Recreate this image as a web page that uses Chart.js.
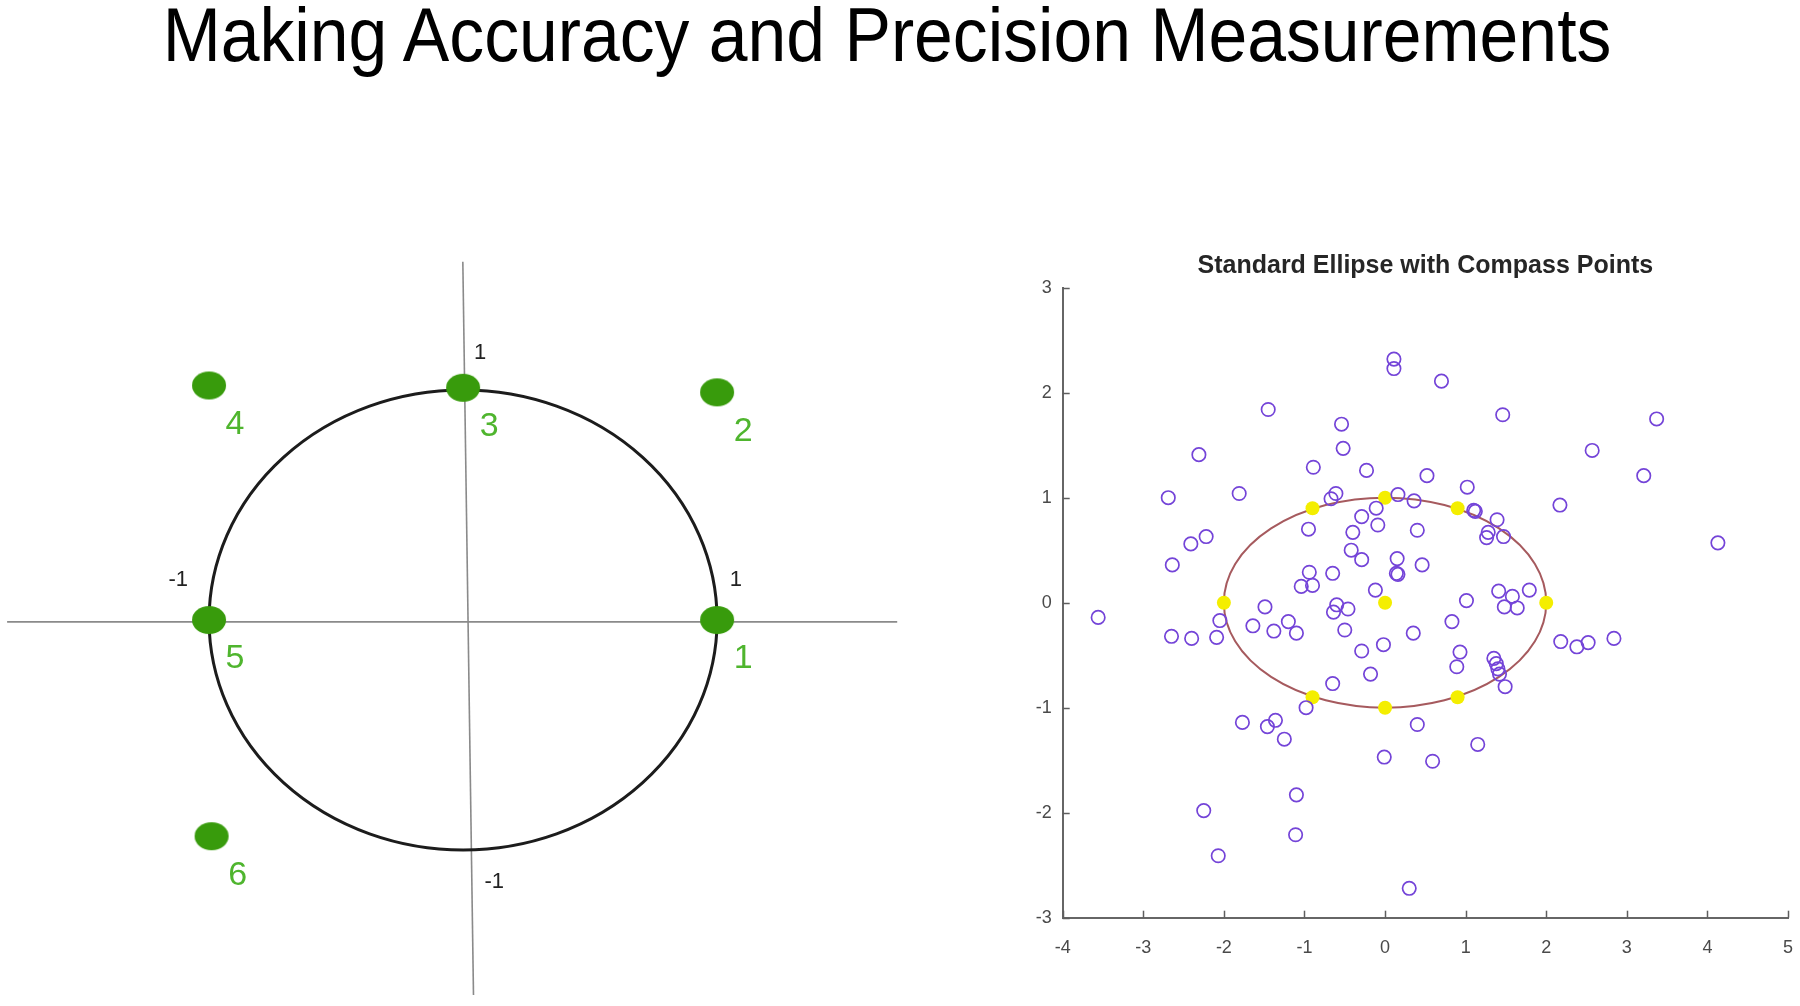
<!DOCTYPE html>
<html>
<head>
<meta charset="utf-8">
<title>Making Accuracy and Precision Measurements</title>
<script src="https://cdn.jsdelivr.net/npm/chart.js@4.4.1/dist/chart.umd.min.js"></script>
<style>
  html, body { margin: 0; padding: 0; background: #fff; }
  body { width: 1800px; height: 1006px; position: relative; overflow: hidden; font-family: "Liberation Sans", Arial, sans-serif; }
  #page-title {
    position: absolute; left: 0; top: -3px; width: 1774px;
    text-align: center; font-size: 76px; line-height: 76px; color: #000;
    transform: scaleX(0.917); transform-origin: 887px 0;
    white-space: nowrap;
  }
  #left-box { position: absolute; left: 0; top: 250px; width: 900px; height: 750px; }
  #right-box { position: absolute; left: 1000px; top: 230px; width: 800px; height: 776px; }
</style>
</head>
<body>
<div id="page-title">Making Accuracy and Precision Measurements</div>
<div id="left-box"><canvas id="circle-chart" width="900" height="750"></canvas></div>
<div id="right-box"><canvas id="ellipse-chart" width="800" height="776"></canvas></div>

<script>
// ---- left diagram: unit circle with six numbered positions ----
const posLabels = ['1', '2', '3', '4', '5', '6'];
const posX = [1.0, 1.0, 0.0, -1.0, -1.0, -0.99];
const posY = [0.0, 0.99, 1.01, 1.02, 0.0, -0.94];

const unitCircle = { cx: 0, cy: 0, r: 1 };

// hand drawn axes (endpoints in data units, the vertical one leans a little)
const hAxis = [[-1.795, -0.008], [1.709, -0.008]];
const vAxis = [[-0.001, 1.558], [0.041, -1.630]];

const axisMarkText = ['1', '-1', '1', '-1'];
const axisMarkX = [0.067, -1.121, 1.074, 0.123];
const axisMarkY = [1.161, 0.174, 0.174, -1.138];

// ---- right chart: scatter around a standard ellipse ----
const measX = [0.11, 0.11, -1.45, -0.54, -0.52, -2.31, -0.89, -0.23, -2.69, -1.81,
  -0.67, -0.61, 0.16, 0.36, 0.52, -0.95, -0.29, -0.11, -0.09, -0.40,
  0.40, -2.41, -2.22, -2.64, -0.42, -0.29, 0.15, 0.14, 0.16, 0.46,
  -0.94, -0.65, -1.04, -0.90, -0.12, -3.56, -1.49, -2.05, -2.65, -2.40,
  -2.09, -1.64, -1.38, -1.20, -1.10, -0.64, -0.60, -0.46, -0.50, -0.29,
  -0.02, 0.35, -0.18, -0.65, -0.98, -1.77, -1.46, -1.36, -1.25, -0.01,
  0.40, -1.10, -2.25, -1.11, -2.07, 0.30, 0.70, 1.46, 3.37, 2.57,
  3.21, 1.02, 1.10, 1.12, 1.39, 1.28, 1.26, 1.47, 2.17, 4.13,
  1.41, 1.58, 1.79, 1.48, 1.64, 1.01, 0.83, 0.93, 0.89, 1.35,
  1.38, 1.40, 1.42, 1.49, 2.18, 2.38, 2.52, 2.84, 1.15, 0.59];
const measY = [2.32, 2.23, 1.84, 1.70, 1.47, 1.41, 1.29, 1.26, 1.00, 1.04,
  0.99, 1.04, 1.03, 0.97, 1.21, 0.70, 0.82, 0.90, 0.74, 0.67,
  0.69, 0.56, 0.63, 0.36, 0.50, 0.41, 0.42, 0.28, 0.27, 0.36,
  0.29, 0.28, 0.155, 0.165, 0.12, -0.14, -0.04, -0.17, -0.32, -0.34,
  -0.33, -0.22, -0.27, -0.18, -0.29, -0.09, -0.02, -0.06, -0.26, -0.46,
  -0.40, -0.29, -0.68, -0.77, -1.00, -1.14, -1.18, -1.12, -1.30, -1.47,
  -1.16, -1.83, -1.98, -2.21, -2.41, -2.72, 2.11, 1.79, 1.75, 1.45,
  1.21, 1.10, 0.88, 0.87, 0.79, 0.67, 0.62, 0.63, 0.93, 0.57,
  0.11, 0.06, 0.12, -0.04, -0.05, 0.02, -0.18, -0.47, -0.61, -0.53,
  -0.58, -0.63, -0.68, -0.80, -0.37, -0.42, -0.38, -0.34, -1.35, -1.51];

const compassX = [0, 2, 0.9, 0, -0.9, -2, -0.9, 0, 0.9];
const compassY = [0, 0, 0.9, 1, 0.9, 0, -0.9, -1, -0.9];

const ellipseCenter = [0, 0];
const ellipseSemiAxes = [2, 1];

const xTickValues = [-4, -3, -2, -1, 0, 1, 2, 3, 4, 5];
const yTickValues = [-3, -2, -1, 0, 1, 2, 3];

const FONT = '"Liberation Sans", Arial, Helvetica, sans-serif';

// green blob used as point style on the left
const blob = document.createElement('canvas');
blob.width = 36; blob.height = 30;
(function () {
  const c = blob.getContext('2d');
  c.fillStyle = '#389b0c';
  c.beginPath();
  c.ellipse(18, 15, 17, 14, 0, 0, Math.PI * 2);
  c.fill();
})();

const leftDecor = {
  id: 'leftDecor',
  beforeDatasetsDraw(chart) {
    const { ctx, scales: { x, y } } = chart;
    ctx.save();
    ctx.strokeStyle = '#8a8a8a';
    ctx.lineWidth = 1.6;
    [hAxis, vAxis].forEach(seg => {
      ctx.beginPath();
      ctx.moveTo(x.getPixelForValue(seg[0][0]), y.getPixelForValue(seg[0][1]));
      ctx.lineTo(x.getPixelForValue(seg[1][0]), y.getPixelForValue(seg[1][1]));
      ctx.stroke();
    });
    const cx = x.getPixelForValue(unitCircle.cx), cy = y.getPixelForValue(unitCircle.cy);
    const rx = Math.abs(x.getPixelForValue(unitCircle.cx + unitCircle.r) - cx);
    const ry = Math.abs(y.getPixelForValue(unitCircle.cy + unitCircle.r) - cy);
    ctx.strokeStyle = '#1c1c1c';
    ctx.lineWidth = 3;
    ctx.beginPath();
    ctx.ellipse(cx, cy, rx, ry, 0, 0, Math.PI * 2);
    ctx.stroke();

    ctx.fillStyle = '#222';
    ctx.font = '22px ' + FONT;
    ctx.textAlign = 'center';
    ctx.textBaseline = 'middle';
    axisMarkText.forEach((t, i) => {
      ctx.fillText(t, x.getPixelForValue(axisMarkX[i]), y.getPixelForValue(axisMarkY[i]));
    });
    ctx.restore();
  },
  afterDatasetsDraw(chart) {
    const { ctx } = chart;
    const pts = chart.getDatasetMeta(0).data;
    ctx.save();
    ctx.fillStyle = '#4fb52e';
    ctx.font = '34px ' + FONT;
    ctx.textAlign = 'center';
    ctx.textBaseline = 'middle';
    pts.forEach((p, i) => ctx.fillText(posLabels[i], p.x + 26, p.y + 39));
    ctx.restore();
  }
};

new Chart(document.getElementById('circle-chart'), {
  type: 'scatter',
  data: {
    datasets: [{
      label: 'positions',
      data: posX.map((v, i) => ({ x: v, y: posY[i] })),
      pointStyle: blob,
      pointRadius: 15
    }]
  },
  options: {
    responsive: false,
    animation: false,
    layout: { padding: 0, autoPadding: false },
    plugins: { legend: { display: false }, tooltip: { enabled: false } },
    scales: {
      x: { type: 'linear', display: false, min: -1.823, max: 1.720 },
      y: { type: 'linear', display: false, min: -1.652, max: 1.609 }
    }
  },
  plugins: [leftDecor]
});

// ellipse + inward MATLAB-style ticks for the right chart
const ellipseLayer = {
  id: 'ellipseLayer',
  beforeDatasetsDraw(chart) {
    const { ctx, scales: { x, y } } = chart;
    const cx = x.getPixelForValue(ellipseCenter[0]);
    const cy = y.getPixelForValue(ellipseCenter[1]);
    const rx = Math.abs(x.getPixelForValue(ellipseCenter[0] + ellipseSemiAxes[0]) - cx);
    const ry = Math.abs(y.getPixelForValue(ellipseCenter[1] + ellipseSemiAxes[1]) - cy);
    ctx.save();
    ctx.strokeStyle = '#a65a5e';
    ctx.lineWidth = 2;
    ctx.beginPath();
    ctx.ellipse(cx, cy, rx, ry, 0, 0, Math.PI * 2);
    ctx.stroke();
    ctx.restore();
  }
};

const inwardTicks = {
  id: 'inwardTicks',
  afterDraw(chart) {
    const { ctx, chartArea, scales: { x, y } } = chart;
    ctx.save();
    ctx.strokeStyle = '#5e5e5e';
    ctx.lineWidth = 1.5;
    x.ticks.forEach(t => {
      const px = Math.round(x.getPixelForValue(t.value)) + 0.5;
      ctx.beginPath();
      ctx.moveTo(px, chartArea.bottom);
      ctx.lineTo(px, chartArea.bottom - 7);
      ctx.stroke();
    });
    y.ticks.forEach(t => {
      const py = Math.round(y.getPixelForValue(t.value)) + 0.5;
      ctx.beginPath();
      ctx.moveTo(chartArea.left, py);
      ctx.lineTo(chartArea.left + 7, py);
      ctx.stroke();
    });
    ctx.restore();
  }
};

new Chart(document.getElementById('ellipse-chart'), {
  type: 'scatter',
  data: {
    datasets: [
      {
        label: 'measurements',
        data: measX.map((v, i) => ({ x: v, y: measY[i] })),
        pointStyle: 'circle',
        pointRadius: 6.7,
        pointBackgroundColor: 'rgba(0,0,0,0)',
        pointBorderColor: '#7444d8',
        pointBorderWidth: 1.7
      },
      {
        label: 'compass points',
        data: compassX.map((v, i) => ({ x: v, y: compassY[i] })),
        pointStyle: 'circle',
        pointRadius: 7,
        pointBackgroundColor: '#f4ee00',
        pointBorderWidth: 0
      }
    ]
  },
  options: {
    responsive: false,
    animation: false,
    layout: { padding: { left: 0, right: 12, top: 0, bottom: 0 }, autoPadding: false },
    plugins: {
      legend: { display: false },
      tooltip: { enabled: false },
      title: {
        display: true,
        fullSize: false,
        text: 'Standard Ellipse with Compass Points',
        color: '#262626',
        font: { family: FONT, size: 25, weight: 'bold' },
        padding: { top: 21, bottom: 6.7 }
      }
    },
    scales: {
      x: {
        type: 'linear', min: -4, max: 5,
        afterBuildTicks: s => { s.ticks = xTickValues.map(v => ({ value: v })); },
        // fixed axis band; end labels may hang over the plot edges like in MATLAB
        afterFit: s => { s.height = 88.3; s.paddingLeft = 0; s.paddingRight = 0; },
        ticks: { color: '#4a4a4a', font: { family: FONT, size: 18 }, padding: 20, maxRotation: 0 },
        grid: { drawOnChartArea: false, drawTicks: false },
        border: { color: '#666', width: 2 }
      },
      y: {
        type: 'linear', min: -3, max: 3,
        afterBuildTicks: s => { s.ticks = yTickValues.map(v => ({ value: v })); },
        afterFit: s => { s.width = 62.7; },
        ticks: { color: '#4a4a4a', font: { family: FONT, size: 18 }, padding: 11 },
        grid: { drawOnChartArea: false, drawTicks: false },
        border: { color: '#666', width: 2 }
      }
    }
  },
  plugins: [ellipseLayer, inwardTicks]
});
</script>
</body>
</html>
